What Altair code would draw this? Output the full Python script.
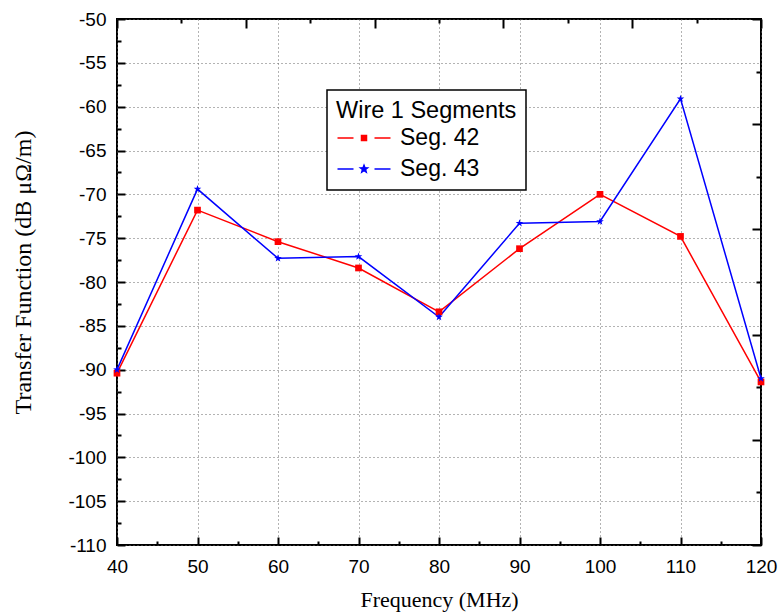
import math

import altair as alt
import pandas as pd

# Measured transfer function per wire segment
freq = [40, 50, 60, 70, 80, 90, 100, 110, 120]
seg42 = [-90.4, -71.8, -75.4, -78.4, -83.4, -76.2, -70.0, -74.8, -91.4]
seg43 = [-90.0, -69.4, -77.3, -77.1, -84.0, -73.3, -73.1, -59.1, -91.0]
series_names = ["Seg. 42", "Seg. 43"]
series_colors = ["#ff0000", "#0000ff"]

# Tick positions for the four sides of the frame
x_ticks = [40, 50, 60, 70, 80, 90, 100, 110, 120]
x_minor = [45, 55, 65, 75, 85, 95, 105, 115]
y_ticks = [-110, -105, -100, -95, -90, -85, -80, -75, -70, -65, -60, -55, -50]
y_minor = [-107.5, -102.5, -97.5, -92.5, -87.5, -82.5, -77.5, -72.5, -67.5,
           -62.5, -57.5, -52.5]
top_ticks = [40, 56, 72, 88, 104, 120]
top_minor = [48, 64, 80, 96, 112]
right_ticks = [-110, -98, -86, -74, -62, -50]
right_minor = [-104, -92, -80, -68, -56]

W, H = 644, 526
SANS = "Liberation Sans"
SERIF = "Liberation Serif"


def star_path(cx, r_out, r_in):
    pts = []
    for k in range(10):
        r = r_out if k % 2 == 0 else r_in
        a = math.radians(-90 + 36 * k)
        pts.append(f"{cx + r * math.cos(a):.3f},{r * math.sin(a):.3f}")
    return "M" + "L".join(pts) + "Z"


STAR = star_path(0, 1, 0.4)
# legend glyphs: line - marker - line
LEG_LINES = "M-1,0L0.6,0M2.7,0L4.3,0"
LEG_42 = LEG_LINES + "M1.39,-0.26L1.91,-0.26L1.91,0.26L1.39,0.26Z"
LEG_43 = LEG_LINES + star_path(1.65, 0.4, 0.17)

df = pd.DataFrame({
    "freq": freq + freq,
    "value": seg42 + seg43,
    "series": [series_names[0]] * len(freq) + [series_names[1]] * len(freq),
})

x_scale = alt.Scale(domain=[40, 120], nice=False, zero=False)
y_scale = alt.Scale(domain=[-110, -50], nice=False, zero=False)


def tick_axis(orient, values, size):
    off = -H if orient in ("top", "bottom") else -W
    return alt.Axis(orient=orient, offset=off, values=values, tickSize=size,
                    tickWidth=2, tickColor="black", ticks=True, labels=False,
                    domain=False, grid=False, title=None)


grid_style = dict(grid=True, gridDash=[1, 3], gridColor="#666666", gridWidth=1,
                  ticks=False, domain=False, labelFont=SANS, labelFontSize=19,
                  labelColor="black", labelFlush=False, titleFont=SERIF,
                  titleFontWeight="normal", titleColor="black")

x_main = alt.Axis(orient="bottom", values=x_ticks, format="d", labelPadding=12,
                  title="Frequency (MHz)", titleFontSize=22, titleX=W / 2, titleY=54,
                  titleAlign="center", titleBaseline="middle", **grid_style)
y_main = alt.Axis(orient="left", values=y_ticks, labelPadding=11,
                  labelExpr="(datum.value < 0 ? '-' : '') + format(abs(datum.value), 'd')",
                  title="Transfer Function (dB μΩ/m)", titleFontSize=24, titleX=-94,
                  titleY=H / 2 - 10, titleAngle=270, titleAlign="center",
                  titleBaseline="middle", **grid_style)

base = alt.Chart(df)
only42 = alt.datum.series == series_names[0]
only43 = alt.datum.series == series_names[1]

line42 = base.transform_filter(only42).mark_line(
    strokeWidth=1.5, color=series_colors[0]
).encode(
    x=alt.X("freq:Q", scale=x_scale, axis=x_main),
    y=alt.Y("value:Q", scale=y_scale, axis=y_main),
)

line43 = base.transform_filter(only43).mark_line(
    strokeWidth=1.5, color=series_colors[1]
).encode(
    x=alt.X("freq:Q", scale=x_scale, axis=tick_axis("top", x_ticks, 8)),
    y=alt.Y("value:Q", scale=y_scale, axis=tick_axis("right", y_ticks, 8)),
)

squares = base.transform_filter(only42).mark_point(
    shape="square", filled=True, size=45, color=series_colors[0], opacity=1
).encode(
    x=alt.X("freq:Q", scale=x_scale, axis=tick_axis("top", x_minor, 4)),
    y=alt.Y("value:Q", scale=y_scale, axis=tick_axis("right", y_minor, 4)),
)

stars = base.transform_filter(only43).mark_point(
    shape=STAR, filled=True, size=64, color=series_colors[1], opacity=1
).encode(
    x=alt.X("freq:Q", scale=x_scale, axis=tick_axis("bottom", top_ticks, 9)),
    y=alt.Y("value:Q", scale=y_scale, axis=tick_axis("left", right_ticks, 9)),
)

# Legend carrier: draws nothing, only supplies the fill/stroke/shape scales
legend_title = "Wire 1 Segments"
legend_layer = base.transform_filter("false").mark_point(filled=True, opacity=1).encode(
    x=alt.X("freq:Q", scale=x_scale, axis=tick_axis("bottom", top_minor, 4)),
    y=alt.Y("value:Q", scale=y_scale, axis=tick_axis("left", right_minor, 5)),
    fill=alt.Fill("series:N", scale=alt.Scale(domain=series_names, range=series_colors),
                  legend=alt.Legend(title=legend_title)),
    stroke=alt.Stroke("series:N", scale=alt.Scale(domain=series_names, range=series_colors),
                      legend=alt.Legend(title=legend_title)),
    shape=alt.Shape("series:N", scale=alt.Scale(domain=series_names, range=[LEG_42, LEG_43]),
                    legend=alt.Legend(title=legend_title)),
)

chart = alt.layer(line42, line43, squares, stars, legend_layer).resolve_axis(
    x="independent", y="independent"
).properties(
    width=W, height=H,
    padding={"left": 117, "top": 19, "right": 17, "bottom": 70},
    autosize=alt.AutoSizeParams(type="none"),
).configure_view(
    stroke="black", strokeWidth=2
).configure_legend(
    orient="none", legendX=210, legendY=71, padding=9,
    strokeColor="black", strokeWidth=1.5, fillColor="white",
    titleFont=SANS, titleFontSize=23.5, titleFontWeight="normal", titleColor="black",
    titleLimit=400, labelLimit=300,
    labelFont=SANS, labelFontSize=23, labelColor="black",
    symbolSize=400, symbolStrokeWidth=1.3, symbolOpacity=1, labelOffset=41,
    rowPadding=7, titlePadding=4,
)

chart.save("out.html", embed_options={"renderer": "svg", "actions": False})
